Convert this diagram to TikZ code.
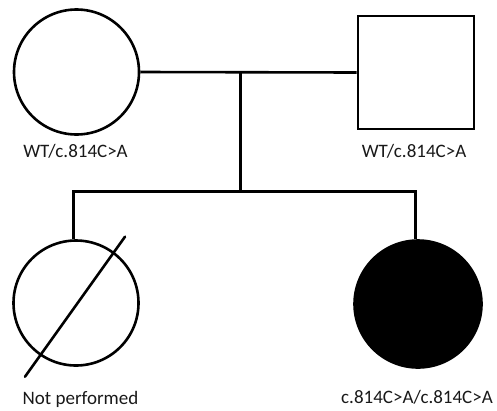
\documentclass[tikz,border=0pt]{standalone}
\usepackage{fontspec}
\setmainfont{Carlito}
\begin{document}
\begin{tikzpicture}[x=1pt,y=-1pt,
  ln/.style={line width=2.6pt},
  female/.style={draw,ln,circle,inner sep=0pt},
  male/.style={draw,ln,rectangle,inner sep=0pt,minimum width=116pt,minimum height=113pt},
  lbl/.style={font=\fontsize{19}{22}\selectfont,inner sep=0pt,text=black!90}]
\useasboundingbox (0,0) rectangle (497,410);
\node[female,minimum size=125pt] (mother) at (76.5,72) {};
\node[male] (father) at (416,72.5) {};
\node[female,minimum size=125pt] (c1) at (76,303) {};
\node[female,minimum size=127pt,fill=black] (c2) at (418,304) {};
\coordinate (mj) at (240.7,72);
\coordinate (sj) at (240.7,191.5);
\coordinate (sl) at (73.3,191.5);
\coordinate (sr) at (415.7,191.5);
\draw[ln] (mother.east) -- (father.west);
\draw[ln] (mj) -- (sj);
\draw[ln] (c1.north -| sl) -- (sl) -- (sr) -- (c2.north -| sr);
\draw[ln,line cap=round] ([shift={(-51,73.7)}]c1.center) -- ([shift={(49,-66.3)}]c1.center);
\node[lbl,anchor=base] (l1) at (75.5,157) {WT/c.814C>A};
\node[lbl,anchor=base] (l2) at (414,157) {WT/c.814C>A};
\node[lbl,anchor=base] (l3) at (80.5,404) {Not performed};
\node[lbl,anchor=base east] (l4) at (493,403) {c.814C>A/c.814C>A};
\end{tikzpicture}
\end{document}
